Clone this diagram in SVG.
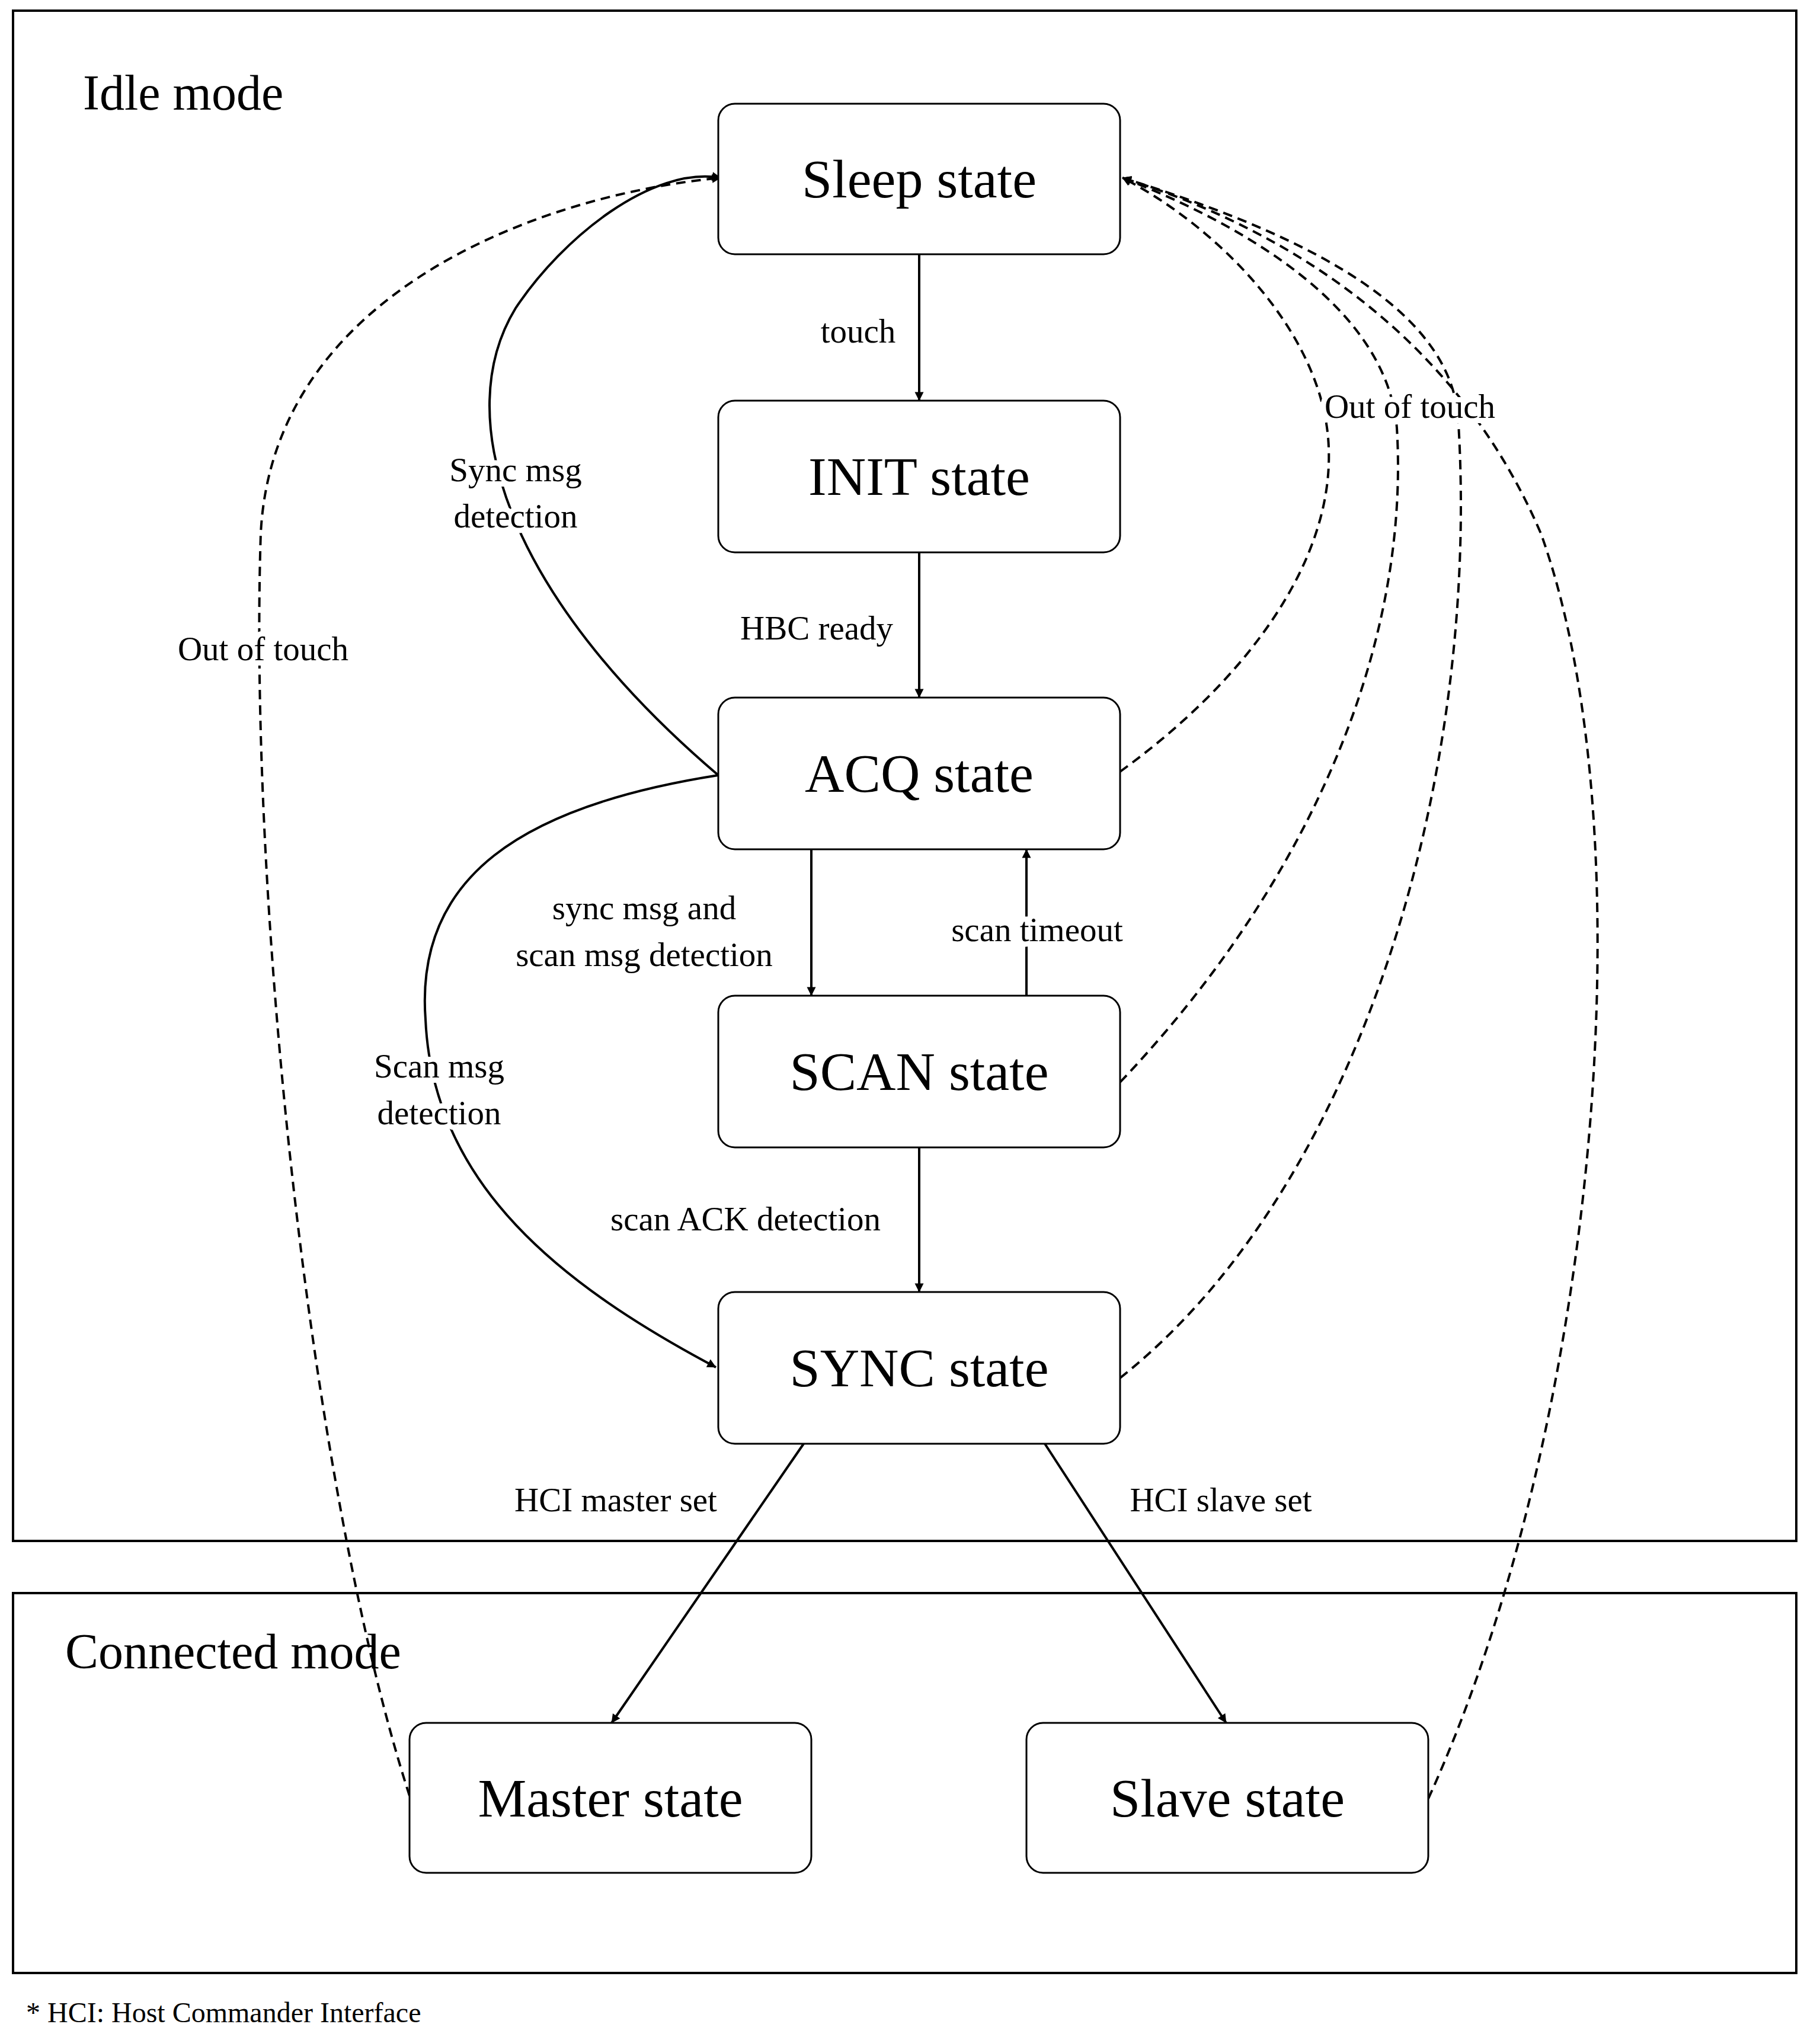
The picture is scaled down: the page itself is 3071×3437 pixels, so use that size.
<svg xmlns="http://www.w3.org/2000/svg" width="3071" height="3437" viewBox="0 0 3071 3437">
<style>
.box{fill:none;stroke:#000;stroke-width:4}
.node{fill:#fff;stroke:#000;stroke-width:3}
.nt{font-family:"Liberation Serif",serif;font-size:92px;text-anchor:middle;dominant-baseline:central}
.lb{font-family:"Liberation Serif",serif;font-size:57px;text-anchor:middle;dominant-baseline:central;paint-order:stroke;stroke:#fff;stroke-width:18px}
.tt{font-family:"Liberation Serif",serif;font-size:84px}
.c{fill:none;stroke:#000;stroke-width:4;marker-end:url(#a)}
.d{stroke-dasharray:16 10}
</style>
<defs><marker id="a" viewBox="0 0 10 10" refX="9" refY="5" markerWidth="6" markerHeight="6" orient="auto" markerUnits="userSpaceOnUse" style="overflow:visible"><path d="M0,0 L10,5 L0,10 z" transform="scale(2.5) translate(-6,-3)"/></marker></defs>
<rect width="3071" height="3437" fill="#fff"/>
<rect class="box" x="22" y="18" width="3009" height="2582"/>
<rect class="box" x="22" y="2688" width="3009" height="641"/>
<text class="tt" x="140" y="185">Idle mode</text>
<text class="tt" x="110" y="2815">Connected mode</text>
<g id="connectors">
<path class="c" d="M1551,429 L1551,676"/>
<path class="c" d="M1551,932 L1551,1177"/>
<path class="c" d="M1369,1433 L1369,1680"/>
<path class="c" d="M1732,1680 L1732,1433"/>
<path class="c" d="M1551,1936 L1551,2180"/>
<path class="c" d="M1356,2436 L1032,2907"/>
<path class="c" d="M1763,2436 L2069,2907"/>
<path class="c" d="M1212,1308 C850,1000 760,700 870,520 C950,400 1100,280 1216,300"/>
<path class="c" d="M1212,1308 C880,1360 700,1480 718,1720 C730,2000 950,2170 1208,2307"/>
<path class="c d" d="M691,3030 C520,2500 420,1500 440,900 C460,500 900,330 1216,300"/>
<path class="c d" d="M1890,1302 C2100,1150 2250,950 2242,755 C2235,560 2050,380 1894,300"/>
<path class="c d" d="M1890,1826 C2200,1500 2380,1100 2357,722 C2340,520 2100,380 1894,300"/>
<path class="c d" d="M1890,2325 C2300,2000 2500,1300 2460,700 C2440,500 2150,380 1894,300"/>
<path class="c d" d="M2410,3035 C2700,2400 2780,1400 2600,900 C2450,550 2150,380 1894,300"/>
<text class="lb" x="1448" y="558">touch</text>
<text class="lb" x="1378" y="1059">HBC ready</text>
<text class="lb" x="1087" y="1531">sync msg and</text>
<text class="lb" x="1087" y="1610">scan msg detection</text>
<text class="lb" x="1750" y="1568">scan timeout</text>
<text class="lb" x="1258" y="2056">scan ACK detection</text>
<text class="lb" x="1039" y="2530">HCI master set</text>
<text class="lb" x="2060" y="2530">HCI slave set</text>
<text class="lb" x="870" y="792">Sync msg</text>
<text class="lb" x="870" y="870">detection</text>
<text class="lb" x="741" y="1798">Scan msg</text>
<text class="lb" x="741" y="1877">detection</text>
<text class="lb" x="444" y="1094">Out of touch</text>
<text class="lb" x="2379" y="685">Out of touch</text>
</g>
<g id="sleep"><rect class="node" x="1212" y="175" width="678" height="254" rx="28"/><text class="nt" x="1551" y="302">Sleep state</text></g>
<g id="init"><rect class="node" x="1212" y="676" width="678" height="256" rx="28"/><text class="nt" x="1551" y="804">INIT state</text></g>
<g id="acq"><rect class="node" x="1212" y="1177" width="678" height="256" rx="28"/><text class="nt" x="1551" y="1305">ACQ state</text></g>
<g id="scan"><rect class="node" x="1212" y="1680" width="678" height="256" rx="28"/><text class="nt" x="1551" y="1808">SCAN state</text></g>
<g id="sync"><rect class="node" x="1212" y="2180" width="678" height="256" rx="28"/><text class="nt" x="1551" y="2308">SYNC state</text></g>
<g id="master"><rect class="node" x="691" y="2907" width="678" height="253" rx="28"/><text class="nt" x="1030" y="3034">Master state</text></g>
<g id="slave"><rect class="node" x="1732" y="2907" width="678" height="253" rx="28"/><text class="nt" x="2071" y="3034">Slave state</text></g>
<text x="44" y="3412" style="font-family:'Liberation Serif',serif;font-size:48px">* HCI: Host Commander Interface</text>
</svg>
